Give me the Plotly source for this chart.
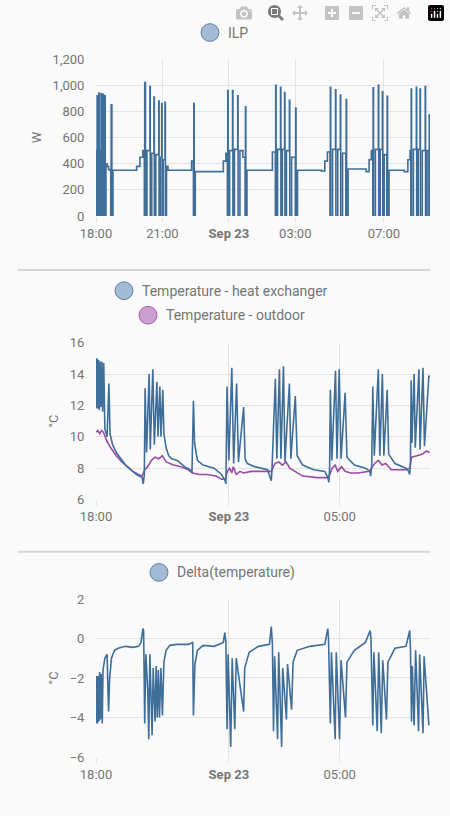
import pandas as pd
import plotly.graph_objects as go

BASE = pd.Timestamp("2023-09-22 18:00")

ilp_min = [0,1,3,4,6,8,9,12,14,15,17,19,20,22,24,25,27,30,34,38,40,41,43,46,100,110,119,127,131,132,134,138,146,147,151,157,158,162,170,171,174,178,179,182,187,188,191,195,249,259,264,265,266,269,335,345,352,356,357,358,362,370,371,375,384,385,390,398,404,405,406,409,470,478,486,487,488,492,500,501,505,511,512,516,524,525,530,540,541,542,546,611,620,627,634,635,636,641,649,650,655,662,663,668,677,678,679,683,732,740,746,750,751,752,757,765,766,770,776,777,781,788,789,790,794,835,845,851,853,854,855,860,868,869,873,878,879,884,892,893,897,902,903]
ilp_w = [500,0,920,0,600,940,0,500,935,0,450,930,0,420,920,0,400,380,355,350,0,850,0,350,350,380,450,500,0,1020,0,500,990,0,480,910,0,470,880,0,450,860,0,430,870,0,380,350,350,420,0,860,0,340,340,420,480,0,960,0,500,960,0,510,920,0,500,450,0,835,0,350,350,490,0,1000,0,510,985,0,510,945,0,500,885,0,450,0,825,0,350,345,420,490,0,985,0,510,965,0,510,925,0,480,0,890,0,360,340,430,500,0,980,0,510,1000,0,510,950,0,470,0,915,0,350,340,430,500,0,970,0,510,985,0,510,970,0,500,990,0,500,0,780]

hx_min = [0,2,3,5,7,9,11,13,16,18,21,24,30,35,38,45,55,65,80,95,110,125,128,131,133,137,144,147,154,158,165,168,173,176,181,184,190,197,205,220,240,255,260,264,267,275,290,320,340,350,352,355,360,368,373,381,386,400,404,410,430,465,472,475,477,486,490,497,501,508,512,524,528,540,545,560,590,620,628,631,633,635,639,649,653,659,664,675,680,700,730,742,744,747,750,754,765,769,776,780,789,793,810,840,847,850,852,854,856,862,865,875,878,886,890,902,904]
hx_c = [15.0,11.8,15.0,11.8,14.9,11.7,14.8,11.9,14.8,11.6,14.7,10.5,10.0,13.4,10.2,9.5,9.0,8.7,8.2,7.9,7.6,7.4,7.0,7.6,13.1,9.0,14.0,9.2,14.3,9.5,13.5,10.0,13.2,10.0,13.0,10.2,9.3,8.8,8.6,8.5,8.1,7.9,7.7,12.3,9.6,8.5,8.2,8.0,7.6,7.2,7.0,13.2,8.5,14.4,8.3,13.4,8.4,11.9,8.6,8.3,8.1,7.9,7.4,7.2,8.0,13.7,8.6,14.3,8.6,14.5,8.4,13.4,8.6,12.6,8.8,8.2,7.9,7.8,7.4,7.1,8.0,13.0,8.5,14.2,8.6,14.3,8.6,12.8,8.7,8.2,8.0,7.8,7.5,8.1,13.2,8.8,14.3,8.8,14.0,8.8,13.0,8.9,8.3,8.0,7.8,7.6,8.3,13.6,9.6,14.0,9.3,14.3,9.2,14.4,9.4,13.9,13.8]

out_min = [0,5,10,15,20,25,30,40,55,70,85,100,115,125,132,140,150,160,170,180,190,210,230,250,262,280,300,325,340,350,356,362,368,372,380,390,400,420,460,475,485,495,505,515,525,540,560,600,630,640,648,655,665,675,690,710,740,755,765,775,785,800,840,850,855,870,885,895,904]
out_c = [10.3,10.4,10.2,10.4,10.3,10.0,9.7,9.3,8.8,8.4,8.1,7.8,7.6,7.5,7.9,8.1,8.5,8.7,8.6,8.8,8.4,8.2,8.1,7.9,7.7,7.6,7.6,7.5,7.3,7.3,7.8,8.0,7.7,8.1,7.6,7.8,7.7,7.8,7.8,7.8,8.3,8.4,8.2,8.4,8.0,7.8,7.5,7.4,7.4,8.0,8.2,7.8,8.1,7.8,7.7,7.7,7.8,8.3,8.5,8.2,8.3,7.9,7.9,8.0,8.7,8.8,8.9,9.1,9.0]

d_min = [0,2,4,6,8,10,12,14,17,19,24,30,34,37,42,50,60,80,100,115,122,127,129,132,135,140,143,146,152,155,160,163,166,169,172,176,180,184,190,200,220,250,262,264,268,275,290,320,345,349,352,355,358,365,369,376,380,400,403,415,440,470,475,478,481,484,492,495,503,506,516,519,530,534,545,580,620,628,630,635,638,648,651,660,664,676,680,700,730,743,745,750,753,762,766,773,777,787,791,810,840,850,852,855,857,862,866,874,877,886,889,902]
d_c = [-4.3,-1.9,-4.3,-1.9,-4.2,-1.7,-4.1,-1.8,-4.3,-1.6,-1.0,-0.8,-3.7,-2.0,-1.0,-0.6,-0.5,-0.4,-0.45,-0.4,-0.2,0.5,0.4,-4.3,-0.8,-2.5,-5.1,-0.8,-4.9,-1.5,-4.2,-1.4,-4.0,-1.6,-4.0,-1.5,-3.9,-1.2,-0.6,-0.35,-0.3,-0.3,-0.2,-3.9,-1.3,-0.6,-0.35,-0.4,-0.2,0.3,-0.2,-4.6,-0.8,-5.5,-1.0,-4.6,-1.0,-3.7,-1.5,-0.7,-0.4,-0.3,0.6,-0.3,-4.7,-0.9,-5.1,-0.7,-5.5,-1.5,-4.1,-1.3,-3.6,-1.2,-0.6,-0.4,-0.3,0.5,0.0,-4.3,-0.7,-5.1,-0.7,-5.1,-1.1,-4.0,-1.2,-0.6,-0.2,0.4,0.0,-4.4,-0.7,-4.7,-0.7,-4.8,-1.1,-4.1,-1.2,-0.5,-0.4,0.4,-0.5,-4.2,-1.4,-4.4,-0.6,-4.7,-0.8,-4.8,-0.9,-4.4]

def ts(mins):
    return [BASE + pd.Timedelta(minutes=m) for m in mins]

BLUE = "#3f6e99"
PURPLE = "#9b4aa6"
GREY = "#757575"
GRID = "#e3e3e3"
FONT = "Roboto"

fig = go.Figure()
fig.add_trace(go.Scatter(x=ts(ilp_min), y=ilp_w, mode="lines", line=dict(color=BLUE, width=1.6, shape="hv"), xaxis="x", yaxis="y"))
fig.add_trace(go.Scatter(x=ts(out_min), y=out_c, mode="lines", line=dict(color=PURPLE, width=1.6), xaxis="x2", yaxis="y2"))
fig.add_trace(go.Scatter(x=ts(hx_min), y=hx_c, mode="lines", line=dict(color=BLUE, width=1.6), xaxis="x2", yaxis="y2"))
fig.add_trace(go.Scatter(x=ts(d_min), y=d_c, mode="lines", line=dict(color=BLUE, width=1.6), xaxis="x3", yaxis="y3"))

xr = [BASE, BASE + pd.Timedelta(minutes=905)]
def tv(hlist):
    return [BASE + pd.Timedelta(hours=h) for h in hlist]

def xax(anchor, hours, labels):
    return dict(anchor=anchor, range=xr, tickvals=tv(hours), ticktext=labels,
                showgrid=True, gridcolor=GRID, zeroline=False, showline=False,
                ticks="outside", ticklen=5, tickcolor=GRID,
                tickfont=dict(size=13, color=GREY, family=FONT), fixedrange=True)

def yax(anchor, dom, rng, dt, title):
    return dict(anchor=anchor, domain=dom, range=rng, dtick=dt, tickformat=",",
                showgrid=True, gridcolor=GRID, zeroline=False, showline=False,
                ticks="outside", ticklen=8, tickcolor="rgba(0,0,0,0)",
                tickfont=dict(size=13, color=GREY, family=FONT),
                title=dict(text=title, font=dict(size=13, color=GREY, family=FONT), standoff=8))

SEP = "<b>Sep 23</b>"
fig.update_layout(
    width=450, height=816, margin=dict(l=96, r=20, t=0, b=0),
    paper_bgcolor="#fafafa", plot_bgcolor="#fafafa", showlegend=False,
    font=dict(family=FONT, color=GREY),
    xaxis=xax("y", [0, 3, 6, 9, 13], ["18:00", "21:00", SEP, "03:00", "07:00"]),
    yaxis=yax("x", [0.739, 0.935], [0, 1200], 200, "W"),
    xaxis2=xax("y2", [0, 6, 11], ["18:00", SEP, "05:00"]),
    yaxis2=yax("x2", [0.385, 0.581], [6, 16], 2, "°C"),
    xaxis3=xax("y3", [0, 6, 11], ["18:00", SEP, "05:00"]),
    yaxis3=yax("x3", [0.0637, 0.261], [-6, 2], 2, "°C"),
)

def legend_item(cx, cy, text, fill, border):
    r = 9
    fig.add_shape(type="circle", xref="paper", yref="paper",
                  x0=(cx - r - 96) / 334, x1=(cx + r - 96) / 334,
                  y0=1 - (cy + r) / 816, y1=1 - (cy - r) / 816,
                  fillcolor=fill, line=dict(color=border, width=1))
    fig.add_annotation(xref="paper", yref="paper", x=(cx + r + 7 - 96) / 334, y=1 - cy / 816,
                       text=text, showarrow=False, xanchor="left", yanchor="middle",
                       font=dict(size=14, color=GREY, family=FONT))

LB, LBB = "#a3bbd5", "#5a7fa6"
LP, LPB = "#cc9fd3", "#a35ab0"
legend_item(210, 26, "ILP", LB, LBB)
legend_item(124, 289, "Temperature - heat exchanger", LB, LBB)
legend_item(148, 314, "Temperature - outdoor", LP, LPB)
legend_item(159, 576, "Delta(temperature)", LB, LBB)

for yy in (268, 555):
    fig.add_shape(type="line", xref="paper", yref="paper",
                  x0=(18 - 96) / 334, x1=1, y0=1 - yy / 816, y1=1 - yy / 816,
                  line=dict(color="#d6d6d6", width=2))

fig.write_html("out.html", post_script="document.body.style.margin='0';document.body.style.background='#fafafa';")
